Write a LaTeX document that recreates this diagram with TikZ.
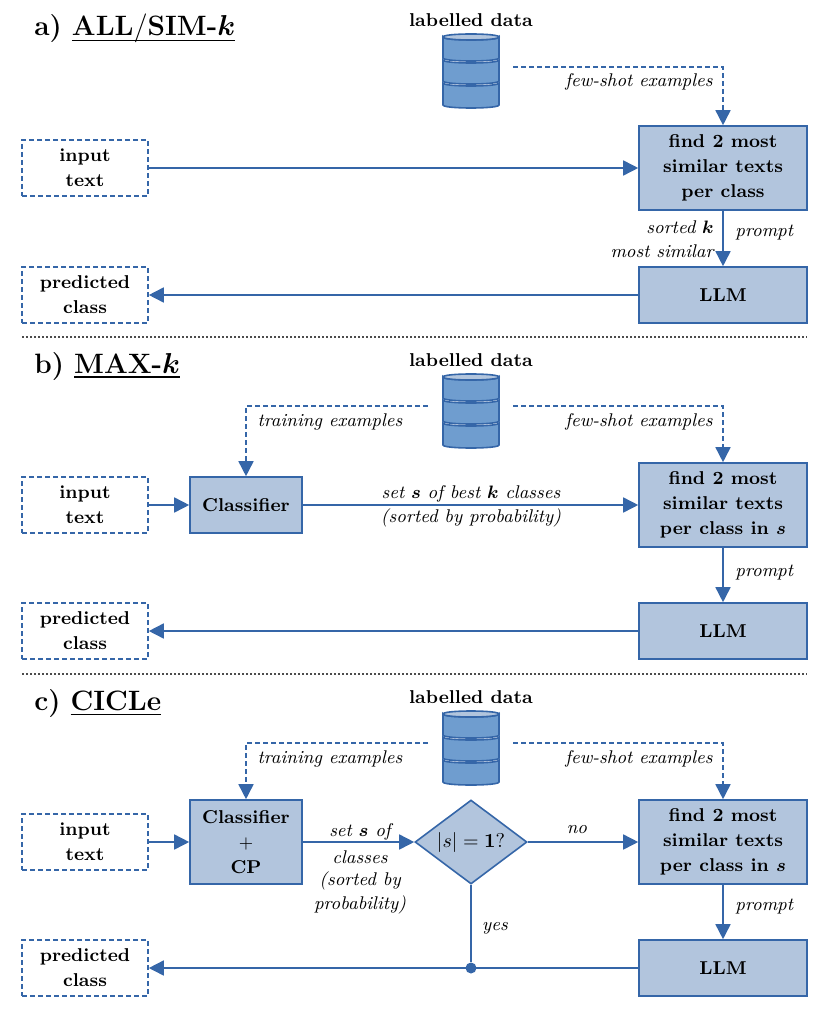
\documentclass[tikz,border=0pt]{standalone}
\usepackage{amsmath}
\usepackage{tikz}
\usetikzlibrary{arrows.meta,shapes.geometric}

\definecolor{flowline}{HTML}{3566A8}
\definecolor{flowfill}{HTML}{B2C5DD}
\definecolor{dbfill}{HTML}{6F9DCF}

\newcommand{\boxfont}{\fontsize{9.3}{12.5}\selectfont\bfseries}
\newcommand{\lblfont}{\fontsize{9.2}{12.5}\selectfont\itshape}

\tikzset{
	flowbox/.style={draw=flowline, fill=flowfill, line width=.8pt, font=\boxfont, align=center, inner sep=0pt},
	iobox/.style={draw=flowline, dash pattern=on 2.6pt off 1.4pt, line width=.8pt, font=\boxfont, align=center, inner sep=0pt, minimum width=63pt, minimum height=28pt},
	flow/.style={draw=flowline, line width=.8pt, -{Triangle[length=7.5pt,width=7.5pt]}},
	flowdash/.style={flow, dash pattern=on 2.6pt off 1.4pt},
	lbl/.style={font=\lblfont, inner sep=0pt, yshift=-.6pt},
	title/.style={font=\fontsize{14}{16}\selectfont\bfseries, anchor=base west, inner sep=0pt},
	dbtitle/.style={font=\boxfont, inner sep=0pt},
	panelsep/.style={draw=black!70, line width=.9pt, dash pattern=on 1pt off 1pt},
	database/.pic={
		\foreach \top/\bot in {83/105,60/81,37/58} {
			\draw[draw=flowline, fill=dbfill, line width=.8pt] (443,\top) -- (443,\bot) .. controls (443,\bot+4) and (499,\bot+4) .. (499,\bot) -- (499,\top) .. controls (499,\top+4) and (443,\top+4) .. (443,\top) -- cycle;
		}
		\draw[draw=flowline, fill=flowfill, line width=.8pt] (443,37) .. controls (443,33) and (499,33) .. (499,37) .. controls (499,41) and (443,41) .. (443,37) -- cycle;
	}
}

\begin{document}
\begin{tikzpicture}[x=.5pt, y=-.5pt]
	\useasboundingbox (0,0) rectangle (830,1010);

	% a)
	\node[title] (titleA) at (34,36) {a)\hspace{5pt}\underline{ALL$\smash{/}$SIM-$\boldsymbol{k}$}};
	\node[dbtitle] (dataA) at (471,20) {labelled data};
	\pic at (0,0) {database};
	\coordinate (dbRightA) at (513,67);
	\node[iobox] (inputA) at (85,168) {input\\text};
	\node[flowbox, minimum width=84pt, minimum height=42pt] (findA) at (723,168) {find 2 most\\similar texts\\per class};
	\node[flowbox, minimum width=84pt, minimum height=28pt] (llmA) at (723,295) {LLM};
	\node[iobox] (predA) at (85,295) {predicted\\class};
	\draw[flowdash] (dbRightA) -| (findA.north);
	\draw[flow] (inputA) -- (findA);
	\draw[flow] (findA) -- (llmA);
	\draw[flow] (llmA) -- (predA);
	\node[lbl, anchor=east] (fewA) at (713,81) {few-shot examples};
	\node[lbl, anchor=east] (sortedA) at (714,226) {sorted $\boldsymbol{k}$};
	\node[lbl, anchor=east] (similarA) at (714,250) {most similar};
	\node[lbl, anchor=west] (promptA) at (735,231) {prompt};
	\coordinate (sepAl) at (22,337);
	\coordinate (sepAr) at (807,337);
	\draw[panelsep] (sepAl) -- (sepAr);

	% b)
	\node[title] (titleB) at (34,373) {b)\hspace{5pt}\underline{MAX-$\boldsymbol{k}$}};
	\node[dbtitle] (dataB) at (471,360) {labelled data};
	\pic at (0,340) {database};
	\coordinate (dbLeftB) at (428,406);
	\coordinate (dbRightB) at (513,406);
	\node[iobox] (inputB) at (85,505) {input\\text};
	\node[flowbox, minimum width=56pt, minimum height=28pt] (clfB) at (246,505) {Classifier};
	\node[flowbox, minimum width=84pt, minimum height=42pt] (findB) at (723,505) {find 2 most\\similar texts\\per class in $\boldsymbol{s}$};
	\node[flowbox, minimum width=84pt, minimum height=28pt] (llmB) at (723,631) {LLM};
	\node[iobox] (predB) at (85,631) {predicted\\class};
	\draw[flowdash] (dbLeftB) -| (clfB.north);
	\draw[flowdash] (dbRightB) -| (findB.north);
	\draw[flow] (inputB) -- (clfB);
	\draw[flow] (clfB) -- (findB);
	\draw[flow] (findB) -- (llmB);
	\draw[flow] (llmB) -- (predB);
	\node[lbl] (trainB) at (330,421) {training examples};
	\node[lbl, anchor=east] (fewB) at (713,421) {few-shot examples};
	\node[lbl] (setB) at (471,493) {set $\boldsymbol{s}$ of best $\boldsymbol{k}$ classes};
	\node[lbl] (sortB) at (471,517) {(sorted by probability)};
	\node[lbl, anchor=west] (promptB) at (735,571) {prompt};
	\coordinate (sepBl) at (22,674);
	\coordinate (sepBr) at (807,674);
	\draw[panelsep] (sepBl) -- (sepBr);

	% c)
	\node[title] (titleC) at (34,710) {c)\hspace{5pt}\underline{CICLe}};
	\node[dbtitle] (dataC) at (471,697) {labelled data};
	\pic at (0,677) {database};
	\coordinate (dbLeftC) at (428,743);
	\coordinate (dbRightC) at (513,743);
	\node[iobox] (inputC) at (85,842) {input\\text};
	\node[flowbox, minimum width=56pt, minimum height=42pt] (clfC) at (246,842) {Classifier\\$+$\\CP};
	\node[flowbox, shape=diamond, aspect=1.33, minimum width=56pt, minimum height=42pt, font=\fontsize{10.2}{12.5}\selectfont\bfseries] (checkC) at (471,842) {$|s|=\mathbf{1?}$};
	\node[flowbox, minimum width=84pt, minimum height=42pt] (findC) at (723,842) {find 2 most\\similar texts\\per class in $\boldsymbol{s}$};
	\node[flowbox, minimum width=84pt, minimum height=28pt] (llmC) at (723,968) {LLM};
	\node[iobox] (predC) at (85,968) {predicted\\class};
	\node[circle, fill=flowline, inner sep=0pt, minimum size=5.5pt] (dotC) at (471,968) {};
	\draw[flowdash] (dbLeftC) -| (clfC.north);
	\draw[flowdash] (dbRightC) -| (findC.north);
	\draw[flow] (inputC) -- (clfC);
	\draw[flow] (clfC) -- (checkC);
	\draw[flow] (checkC) -- (findC);
	\draw[flow] (findC) -- (llmC);
	\draw[flow] (llmC) -- (predC);
	\draw[flow, -] (checkC) -- (dotC);
	\node[lbl] (trainC) at (330,758) {training examples};
	\node[lbl, anchor=east] (fewC) at (713,758) {few-shot examples};
	\node[lbl] (setC) at (360,831) {set $\boldsymbol{s}$ of};
	\node[lbl] (classesC) at (360,856) {classes};
	\node[lbl] (sortC) at (360,880) {(sorted by};
	\node[lbl] (probC) at (360,904) {probability)};
	\node[lbl] (noC) at (577,828) {no};
	\node[lbl] (yesC) at (495,927) {yes};
	\node[lbl, anchor=west] (promptC) at (735,905) {prompt};
\end{tikzpicture}
\end{document}
